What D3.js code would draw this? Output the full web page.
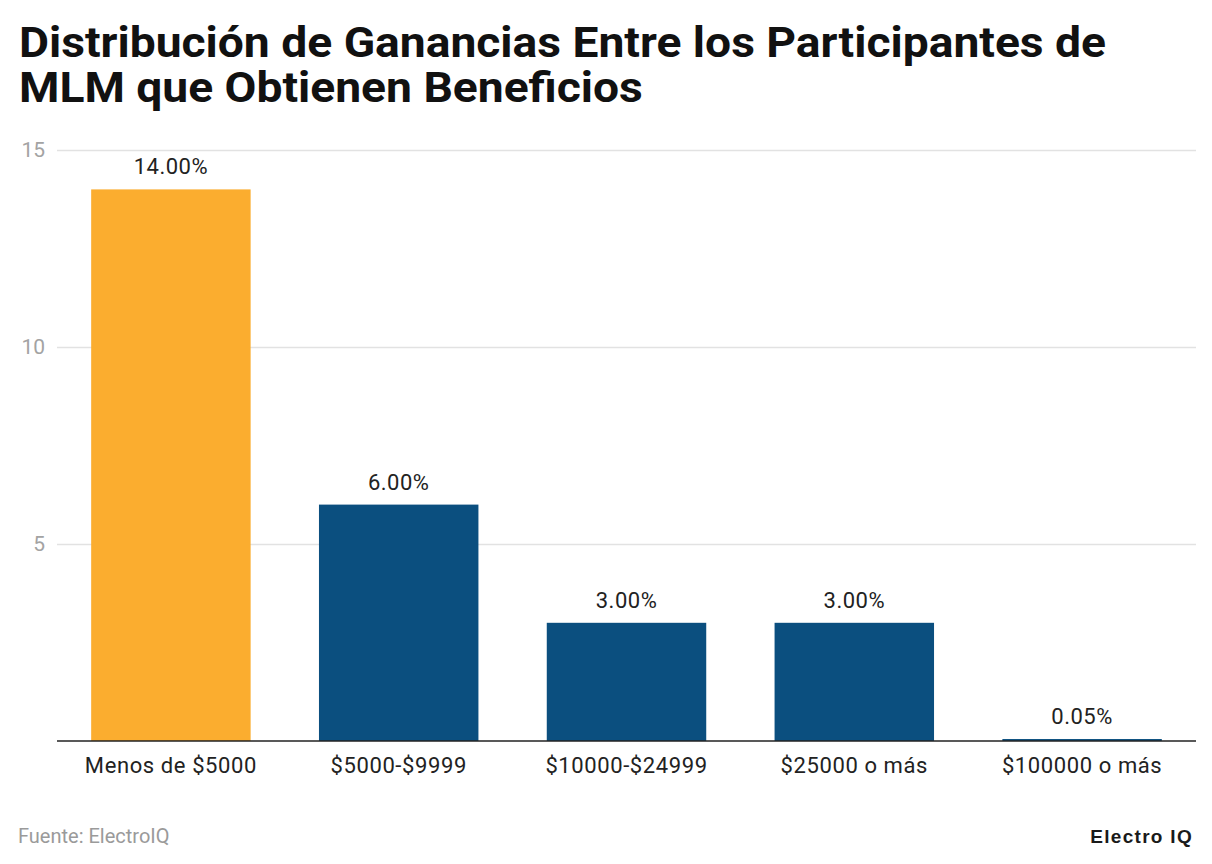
<!DOCTYPE html>
<html>
<head>
<meta charset="utf-8">
<script src="https://cdn.jsdelivr.net/npm/d3@7"></script>
<style>
	body { margin: 0; background: #fff; }
	svg text { font-family: Roboto, 'Noto Sans', sans-serif; }
</style>
</head>
<body>
<div id="chart"></div>
<script>
const title_lines = ['Distribución de Ganancias Entre los Participantes de', 'MLM que Obtienen Beneficios']
const categories = ['Menos de $5000', '$5000-$9999', '$10000-$24999', '$25000 o más', '$100000 o más']
const values = [14, 6, 3, 3, 0.05]
const value_labels = ['14.00%', '6.00%', '3.00%', '3.00%', '0.05%']
const y_ticks = [5, 10, 15]
const source_text = 'Fuente: ElectroIQ'
const brand_text = 'Electro IQ'

const W = 1212, H = 864
const m = { left: 57, right: 16, top: 150, bottom: 123 }

const $svg = d3.select('#chart').append('svg')
	.attr('width', W)
	.attr('height', H)

// Title (reference type is slightly wide, so stretch it a bit)
const $title = $svg.append('text')
	.attr('font-weight', 700)
	.attr('font-size', 42)
	.attr('fill', '#111')
	.attr('transform', 'translate(19, 0) scale(1.1, 1)')
$title.selectAll('tspan')
	.data(title_lines)
	.enter()
	.append('tspan')
	.attr('x', 0)
	.attr('y', (_, i) => 57 + i * 45)
	.text(d => d)

const x = d3.scaleBand()
	.domain(categories)
	.range([m.left, W - m.right])
	.paddingInner(0.3)
	.paddingOuter(0.15)

const y = d3.scaleLinear()
	.domain([0, 15])
	.range([H - m.bottom, m.top])

// Grid
const $grid = $svg.append('g')
	.attr('transform', `translate(${m.left}, 0)`)
	.call(d3.axisLeft(y).tickValues(y_ticks).tickSize(-(W - m.right - m.left)).tickPadding(12))
$grid.select('.domain').remove()
$grid.selectAll('.tick line').attr('stroke', '#e2e2e2').attr('stroke-width', 1.5)
$grid.selectAll('.tick text')
	.attr('fill', '#a3a3a3')
	.attr('font-size', 21)
	.attr('font-family', 'Roboto, sans-serif')

// Bars
$svg.append('g')
	.selectAll('rect')
	.data(values)
	.enter()
	.append('rect')
	.attr('x', (_, i) => x(categories[i]))
	.attr('width', x.bandwidth())
	.attr('y', d => y(d))
	.attr('height', d => y(0) - y(d))
	.attr('fill', (_, i) => i === 0 ? '#fbad2f' : '#0b4f7f')

// Value labels
$svg.append('g')
	.selectAll('text')
	.data(values)
	.enter()
	.append('text')
	.attr('x', (_, i) => x(categories[i]) + x.bandwidth() / 2)
	.attr('y', d => y(d) - 15)
	.attr('text-anchor', 'middle')
	.attr('font-size', 22)
	.attr('letter-spacing', 0.5)
	.attr('fill', '#222')
	.text((_, i) => value_labels[i])

// X axis
const $xaxis = $svg.append('g')
	.attr('transform', `translate(0, ${y(0)})`)
	.call(d3.axisBottom(x).tickSize(0).tickPadding(16))
$xaxis.select('.domain').attr('stroke', '#222').attr('stroke-width', 1.5)
	.attr('d', `M${m.left},0H${W - m.right}`)
$xaxis.selectAll('.tick text')
	.attr('fill', '#222')
	.attr('font-size', 22)
	.attr('letter-spacing', 0.6)
	.attr('font-family', 'Roboto, sans-serif')

// Footer
$svg.append('text')
	.attr('x', 18)
	.attr('y', 843)
	.attr('font-size', 20)
	.attr('fill', '#9a9a9a')
	.text(source_text)

$svg.append('text')
	.attr('x', 1193)
	.attr('y', 843)
	.attr('text-anchor', 'end')
	.attr('font-size', 19)
	.attr('font-weight', 900)
	.attr('letter-spacing', 1.3)
	.attr('fill', '#1a1a1a')
	.style('font-family', "'Liberation Sans', Arial, sans-serif")
	.text(brand_text)
</script>
</body>
</html>
